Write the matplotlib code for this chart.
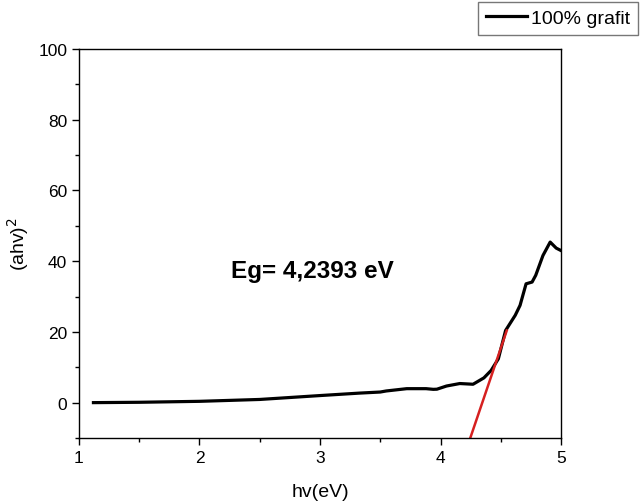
import matplotlib.pyplot as plt
from matplotlib.ticker import MultipleLocator

plt.rcParams['font.family'] = ['Liberation Sans', 'DejaVu Sans']

hv = [1.12, 1.5, 2.0, 2.5, 3.0, 3.33, 3.5, 3.55, 3.72, 3.88, 3.94, 3.97, 4.05, 4.16,
      4.27, 4.36, 4.42, 4.48, 4.54, 4.62, 4.66, 4.71, 4.76, 4.79, 4.85, 4.91,
      4.96, 5.0]
ahv2 = [0.0, 0.1, 0.37, 0.9, 2.0, 2.7, 3.0, 3.3, 3.95, 3.95, 3.76, 3.8, 4.7, 5.4,
        5.2, 7.0, 9.1, 12.4, 20.4, 24.7, 27.5, 33.6, 34.1, 36.0, 41.6, 45.4,
        43.7, 43.0]

# Tangent (band gap fit) line
fit_x = [4.245, 4.55]
fit_y = [-10.2, 20.4]

fig = plt.figure(figsize=(6.4, 5.02), dpi=100)
ax = fig.add_axes([0.1234, 0.1255, 0.7532, 0.7749])

ax.plot(hv, ahv2, color='black', lw=2.3, label='100% grafit')
ax.plot(fit_x, fit_y, color='#d62020', lw=1.8)

ax.set_xlim(1, 5)
ax.set_ylim(-10, 100)
ax.xaxis.set_major_locator(MultipleLocator(1))
ax.xaxis.set_minor_locator(MultipleLocator(0.5))
ax.yaxis.set_major_locator(MultipleLocator(20))
ax.yaxis.set_minor_locator(MultipleLocator(10))
ax.tick_params(which='major', direction='out', length=5, width=1, labelsize=12.5)
ax.tick_params(which='minor', direction='out', length=3, width=1)
for s in ax.spines.values():
    s.set_linewidth(1)

ax.set_xlabel('hv(eV)', fontsize=14, labelpad=13)
ax.set_ylabel('(ahv)$^2$', fontsize=14, labelpad=5)

ax.text(2.94, 37.3, 'Eg= 4,2393 eV', fontsize=17.5, fontweight='bold',
        ha='center', va='center')

leg = fig.legend(loc='upper right', bbox_to_anchor=(0.997, 0.995), fontsize=14,
                 frameon=True, fancybox=False, handlelength=2.1,
                 borderpad=0.42, handletextpad=0.2, borderaxespad=0)
leg.get_frame().set_edgecolor('#555555')
leg.get_frame().set_linewidth(1)

fig.savefig('out.png', dpi=100)
